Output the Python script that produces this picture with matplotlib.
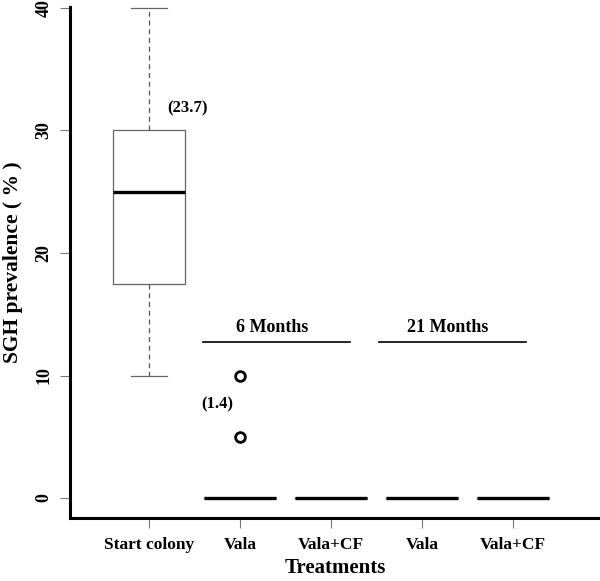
import matplotlib
matplotlib.use("Agg")
import matplotlib.pyplot as plt

# data
treatments = ["Start colony", "Vala", "Vala+CF", "Vala", "Vala+CF"]
q1 = [17.5, 0, 0, 0, 0]
medians = [25, 0, 0, 0, 0]
q3 = [30, 0, 0, 0, 0]
whisk_lo = [10, 0, 0, 0, 0]
whisk_hi = [40, 0, 0, 0, 0]
outliers = [[], [10, 5], [], [], []]
means = {1: "(23.7)", 2: "(1.4)"}
groups = ["6 Months", "21 Months"]
group_span = [(1.59, 3.21), (3.53, 5.14)]
group_level = 12.7

plt.rcParams['font.family'] = ['Liberation Serif', 'DejaVu Serif']
plt.rcParams['font.weight'] = 'bold'

fig = plt.figure(figsize=(6.0, 5.81), dpi=100)
W, H = 600, 581
ax = fig.add_axes([70 / W, 1 - 518 / H, 530 / W, 511 / H])

stats = []
for i in range(len(treatments)):
    stats.append(dict(med=medians[i], q1=q1[i], q3=q3[i],
                      whislo=whisk_lo[i], whishi=whisk_hi[i], fliers=outliers[i]))

pos = list(range(1, len(treatments) + 1))
ax.bxp(stats, positions=pos, widths=0.8, capwidths=0.4,
       boxprops=dict(color='#666666', linewidth=0.9),
       whiskerprops=dict(color='#555555', linewidth=0.9, linestyle=(0, (4, 3))),
       capprops=dict(color='#666666', linewidth=0.9),
       medianprops=dict(color='black', linewidth=2.4, solid_capstyle='butt'),
       flierprops=dict(marker='o', markerfacecolor='none', markeredgecolor='black',
                       markeredgewidth=2.0, markersize=7))

# mean annotations
ax.text(1.42, 31.8, means[1], ha='center', va='center', fontsize=12, fontweight='bold')
ax.text(1.75, 7.65, means[2], ha='center', va='center', fontsize=12, fontweight='bold')

# period brackets
for name, (x0, x1) in zip(groups, group_span):
    ax.plot([x0, x1], [group_level, group_level], color='black', linewidth=1.2)
    ax.text((x0 + x1) / 2 - 0.05, 13.95, name, ha='center', va='center',
            fontsize=13, fontweight='bold')

ax.set_xlim(0.132, 5.956)
ax.set_ylim(-1.63, 40.08)
ax.set_xticks(pos)
ax.set_xticklabels(treatments, fontsize=12.5, fontweight='bold')
ax.set_yticks([0, 10, 20, 30, 40])
ax.set_yticklabels(["0", "10", "20", "30", "40"], fontsize=13, fontweight='bold',
                   rotation=90, va='center')
ax.tick_params(axis='both', length=7.5, width=0.8, color='#777777', pad=6)
ax.tick_params(axis='y', pad=5)

for s in ['top', 'right']:
    ax.spines[s].set_visible(False)
for s in ['left', 'bottom']:
    ax.spines[s].set_linewidth(2.2)
    ax.spines[s].set_color('black')

ax.set_xlabel("Treatments", fontsize=15, fontweight='bold', labelpad=4)
ax.set_ylabel("SGH prevalence ( % )", fontsize=15.5, fontweight='bold', labelpad=9)

fig.savefig("out.png", dpi=100)
